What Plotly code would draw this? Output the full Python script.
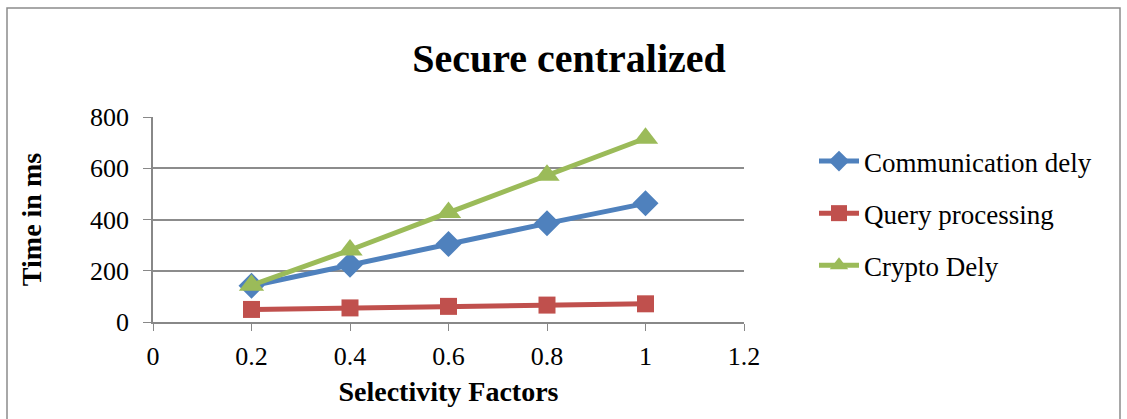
import plotly.graph_objects as go

# Selectivity factor on x, time in ms on y
selectivity = [0.2, 0.4, 0.6, 0.8, 1.0]
communication_dely = [141, 223, 304, 385, 463]
query_processing = [49, 55, 61, 66, 71]
crypto_dely = [143, 281, 427, 573, 717]

W, H = 1127, 419
L, R, T, B = 153, 744, 117, 322  # plot area in pixels

def px_x(p):
    return (p - L) / (R - L)

def px_y(p):
    return (B - p) / (B - T)

serif = "Liberation Serif"

series = [
    ("Communication dely", communication_dely, "#4F81BD", "diamond", 20),
    ("Query processing", query_processing, "#C0504D", "square", 17),
    ("Crypto Dely", crypto_dely, "#9BBB59", "triangle-up", 22),
]

fig = go.Figure()
for name, vals, color, sym, size in series:
    fig.add_trace(go.Scatter(
        x=selectivity, y=vals, name=name, mode="lines+markers",
        line=dict(color=color, width=5),
        marker=dict(symbol=sym, size=size, color=color),
        legendgroup=name,
    ))

fig.update_layout(
    width=W, height=H,
    margin=dict(l=L, r=W - R, t=T, b=H - B),
    paper_bgcolor="white", plot_bgcolor="white",
    font=dict(family=serif, size=26, color="black"),
    title=dict(text="<b>Secure centralized</b>", x=px_x(569), xref="paper",
               xanchor="center", y=1 - 58 / H, yanchor="middle",
               font=dict(size=40, family=serif)),
    xaxis=dict(range=[0, 1.2], dtick=0.2, tick0=0, showgrid=False,
               showline=True, linecolor="#888888", linewidth=1.5,
               ticks="outside", ticklen=7, tickcolor="#888888",
               ticklabelstandoff=3,
               tickformat="~g", zeroline=False,
               title=dict(text="<b>Selectivity Factors</b>", standoff=11,
                          font=dict(size=28))),
    yaxis=dict(range=[0, 800], dtick=200, showgrid=True,
               gridcolor="#8c8c8c", gridwidth=1.5,
               showline=True, linecolor="#888888", linewidth=1.5,
               ticks="outside", ticklen=8, tickcolor="#888888",
               ticklabelstandoff=9,
               zeroline=False,
               title=dict(text="<b>Time in ms</b>", standoff=40,
                          font=dict(size=28))),
    legend=dict(x=px_x(814), y=px_y(137), xanchor="left", yanchor="top",
                font=dict(size=27), tracegroupgap=14, itemwidth=40,
                bgcolor="rgba(0,0,0,0)"),
    showlegend=True,
)

# Chart frame
fig.add_shape(type="rect", xref="paper", yref="paper",
              x0=px_x(7), x1=px_x(1120), y0=px_y(430), y1=px_y(8),
              line=dict(color="#8c8c8c", width=1.5), layer="below")

fig.write_html("out.html")
